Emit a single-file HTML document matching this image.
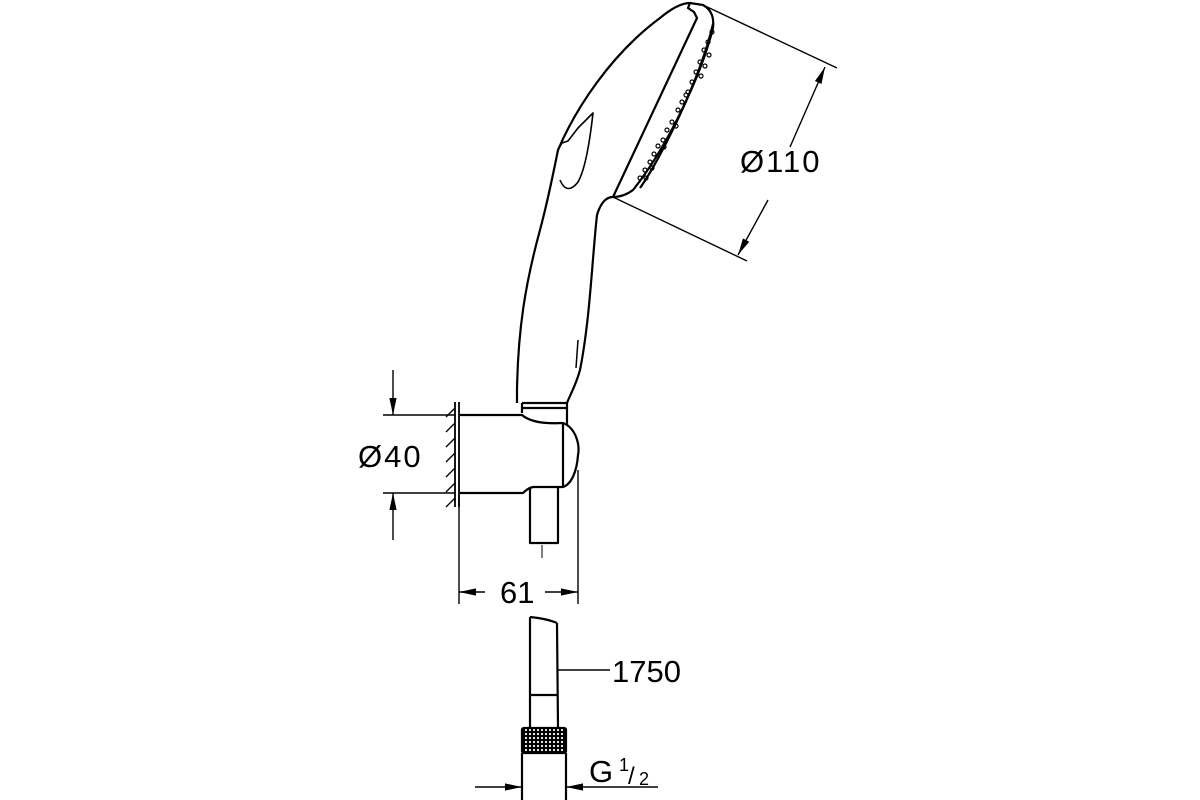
<!DOCTYPE html>
<html><head><style>
html,body{margin:0;padding:0;background:#fff;}
svg{display:block;}
text{font-family:"Liberation Sans",sans-serif;fill:#000;}
</style></head><body>
<svg width="1200" height="800" viewBox="0 0 1200 800" xmlns="http://www.w3.org/2000/svg">
<defs>
<marker id="ar" viewBox="0 0 10 10" refX="10" refY="5" markerWidth="17" markerHeight="8" markerUnits="userSpaceOnUse" orient="auto" preserveAspectRatio="none"><path d="M0,0.5 L10,5 L0,9.5 z" fill="#000"/></marker>
<pattern id="kn" width="4" height="4" patternUnits="userSpaceOnUse"><rect width="4" height="4" fill="#000"/><circle cx="2" cy="2" r="1.1" fill="#fff"/></pattern>
</defs>
<g fill="none" stroke="#000" stroke-width="2.2" stroke-linejoin="round">
<path d="M517,403 L517,390 C518,330 525,285 540,230 C548,200 553,175 558,150 C575,110 610,55 660,18 C672,8 682,3 690,3 L703,5 C712,10 714,18 713,28 C700,80 665,150 633,190 C625,196 618,197 613,197 C605,197 600,205 597,215 C592,260 590,320 580,370 C576,385 570,395 567,403"/>
<path d="M690,3 L688,8 L694,12 L697,18 L613,197"/>
<path d="M713,24 C700,80 660,160 640,188"/>
<path d="M558,150 L562,143 L568,141 L578,128 L593,113 C590,140 585,170 578,182 C572,190 565,192 560,180" stroke-width="1.6"/>
<path d="M578,340 L576,368" stroke-width="1.5"/>
<g stroke-width="1.2">
<circle cx="712" cy="32" r="2"/><circle cx="708" cy="42" r="2"/><circle cx="704" cy="50" r="2"/><circle cx="709" cy="55" r="2"/><circle cx="700" cy="62" r="2"/><circle cx="705" cy="66" r="2"/><circle cx="696" cy="72" r="2"/><circle cx="701" cy="76" r="2"/><circle cx="692" cy="82" r="2"/><circle cx="688" cy="92" r="2"/><circle cx="682" cy="102" r="2"/><circle cx="686" cy="95" r="2"/><circle cx="678" cy="110" r="2"/><circle cx="672" cy="122" r="2"/><circle cx="676" cy="126" r="2"/><circle cx="667" cy="130" r="2"/><circle cx="663" cy="140" r="2"/><circle cx="658" cy="146" r="2"/><circle cx="664" cy="147" r="2"/><circle cx="654" cy="154" r="2"/><circle cx="650" cy="162" r="2"/><circle cx="645" cy="170" r="2"/><circle cx="652" cy="168" r="2"/><circle cx="640" cy="178" r="2"/><circle cx="646" cy="178" r="2"/>
</g>
<path d="M522,403 L567,403 M522,403 L522,413 M567,403 L567,425 M522,408 L567,408"/>
<path d="M460,415 L522,415 C530,422 545,424 563,423 C576,428 580,445 578,455 C577,470 572,484 563,487 L533,487 C528,488 525,491 523,493 L460,493"/>
<path d="M563,423 L563,487"/>
<path d="M530,487 L530,543 L558,543 L558,487"/>
<path d="M542,545 L542,558" stroke-width="1"/>
<path d="M455,402 L455,507 M459,402 L459,507" stroke-width="1.8"/>
<path d="M455,408 L446,417 M455,423 L446,432 M455,438 L446,447 M455,453 L446,462 M455,468 L446,477 M455,483 L446,492 M455,498 L446,507" stroke-width="1.3"/>
<path d="M530,617 L530,728 M557,623 L558,728 M530,617 C540,618 550,620 557,623 M530,695 L558,695"/>
<rect x="522" y="728" width="44" height="25" rx="2" fill="url(#kn)"/>
<path d="M522,753 L522,800 M566,753 L566,800"/>
</g>
<g fill="none" stroke="#000" stroke-width="1.4">
<path d="M703,5 L837,68 M613,197 L747,261"/>
<path d="M790,147 L825,67" marker-end="url(#ar)"/>
<path d="M768,200 L738,255" marker-end="url(#ar)"/>
<path d="M383,415 L455,415 M383,493 L455,493"/>
<path d="M393,370 L393,415" marker-end="url(#ar)"/>
<path d="M393,540 L393,493" marker-end="url(#ar)"/>
<path d="M459,495 L459,604 M578,470 L578,604"/>
<path d="M485,592 L459,592" marker-end="url(#ar)"/>
<path d="M545,592 L578,592" marker-end="url(#ar)"/>
<path d="M558,670 L610,670"/>
<path d="M475,787 L522,787" marker-end="url(#ar)"/>
<path d="M658,787 L566,787" marker-end="url(#ar)"/>
</g>
<text x="740" y="172" font-size="31" letter-spacing="2">Ø110</text>
<text x="358" y="467" font-size="31" letter-spacing="2">Ø40</text>
<text x="500" y="603" font-size="31">61</text>
<text x="612" y="682" font-size="31">1750</text>
<text x="589" y="782" font-size="31">G</text>
<text x="619" y="771" font-size="18">1</text>
<text x="628" y="784" font-size="24">/</text>
<text x="639" y="785" font-size="18">2</text>
</svg>
</body></html>
